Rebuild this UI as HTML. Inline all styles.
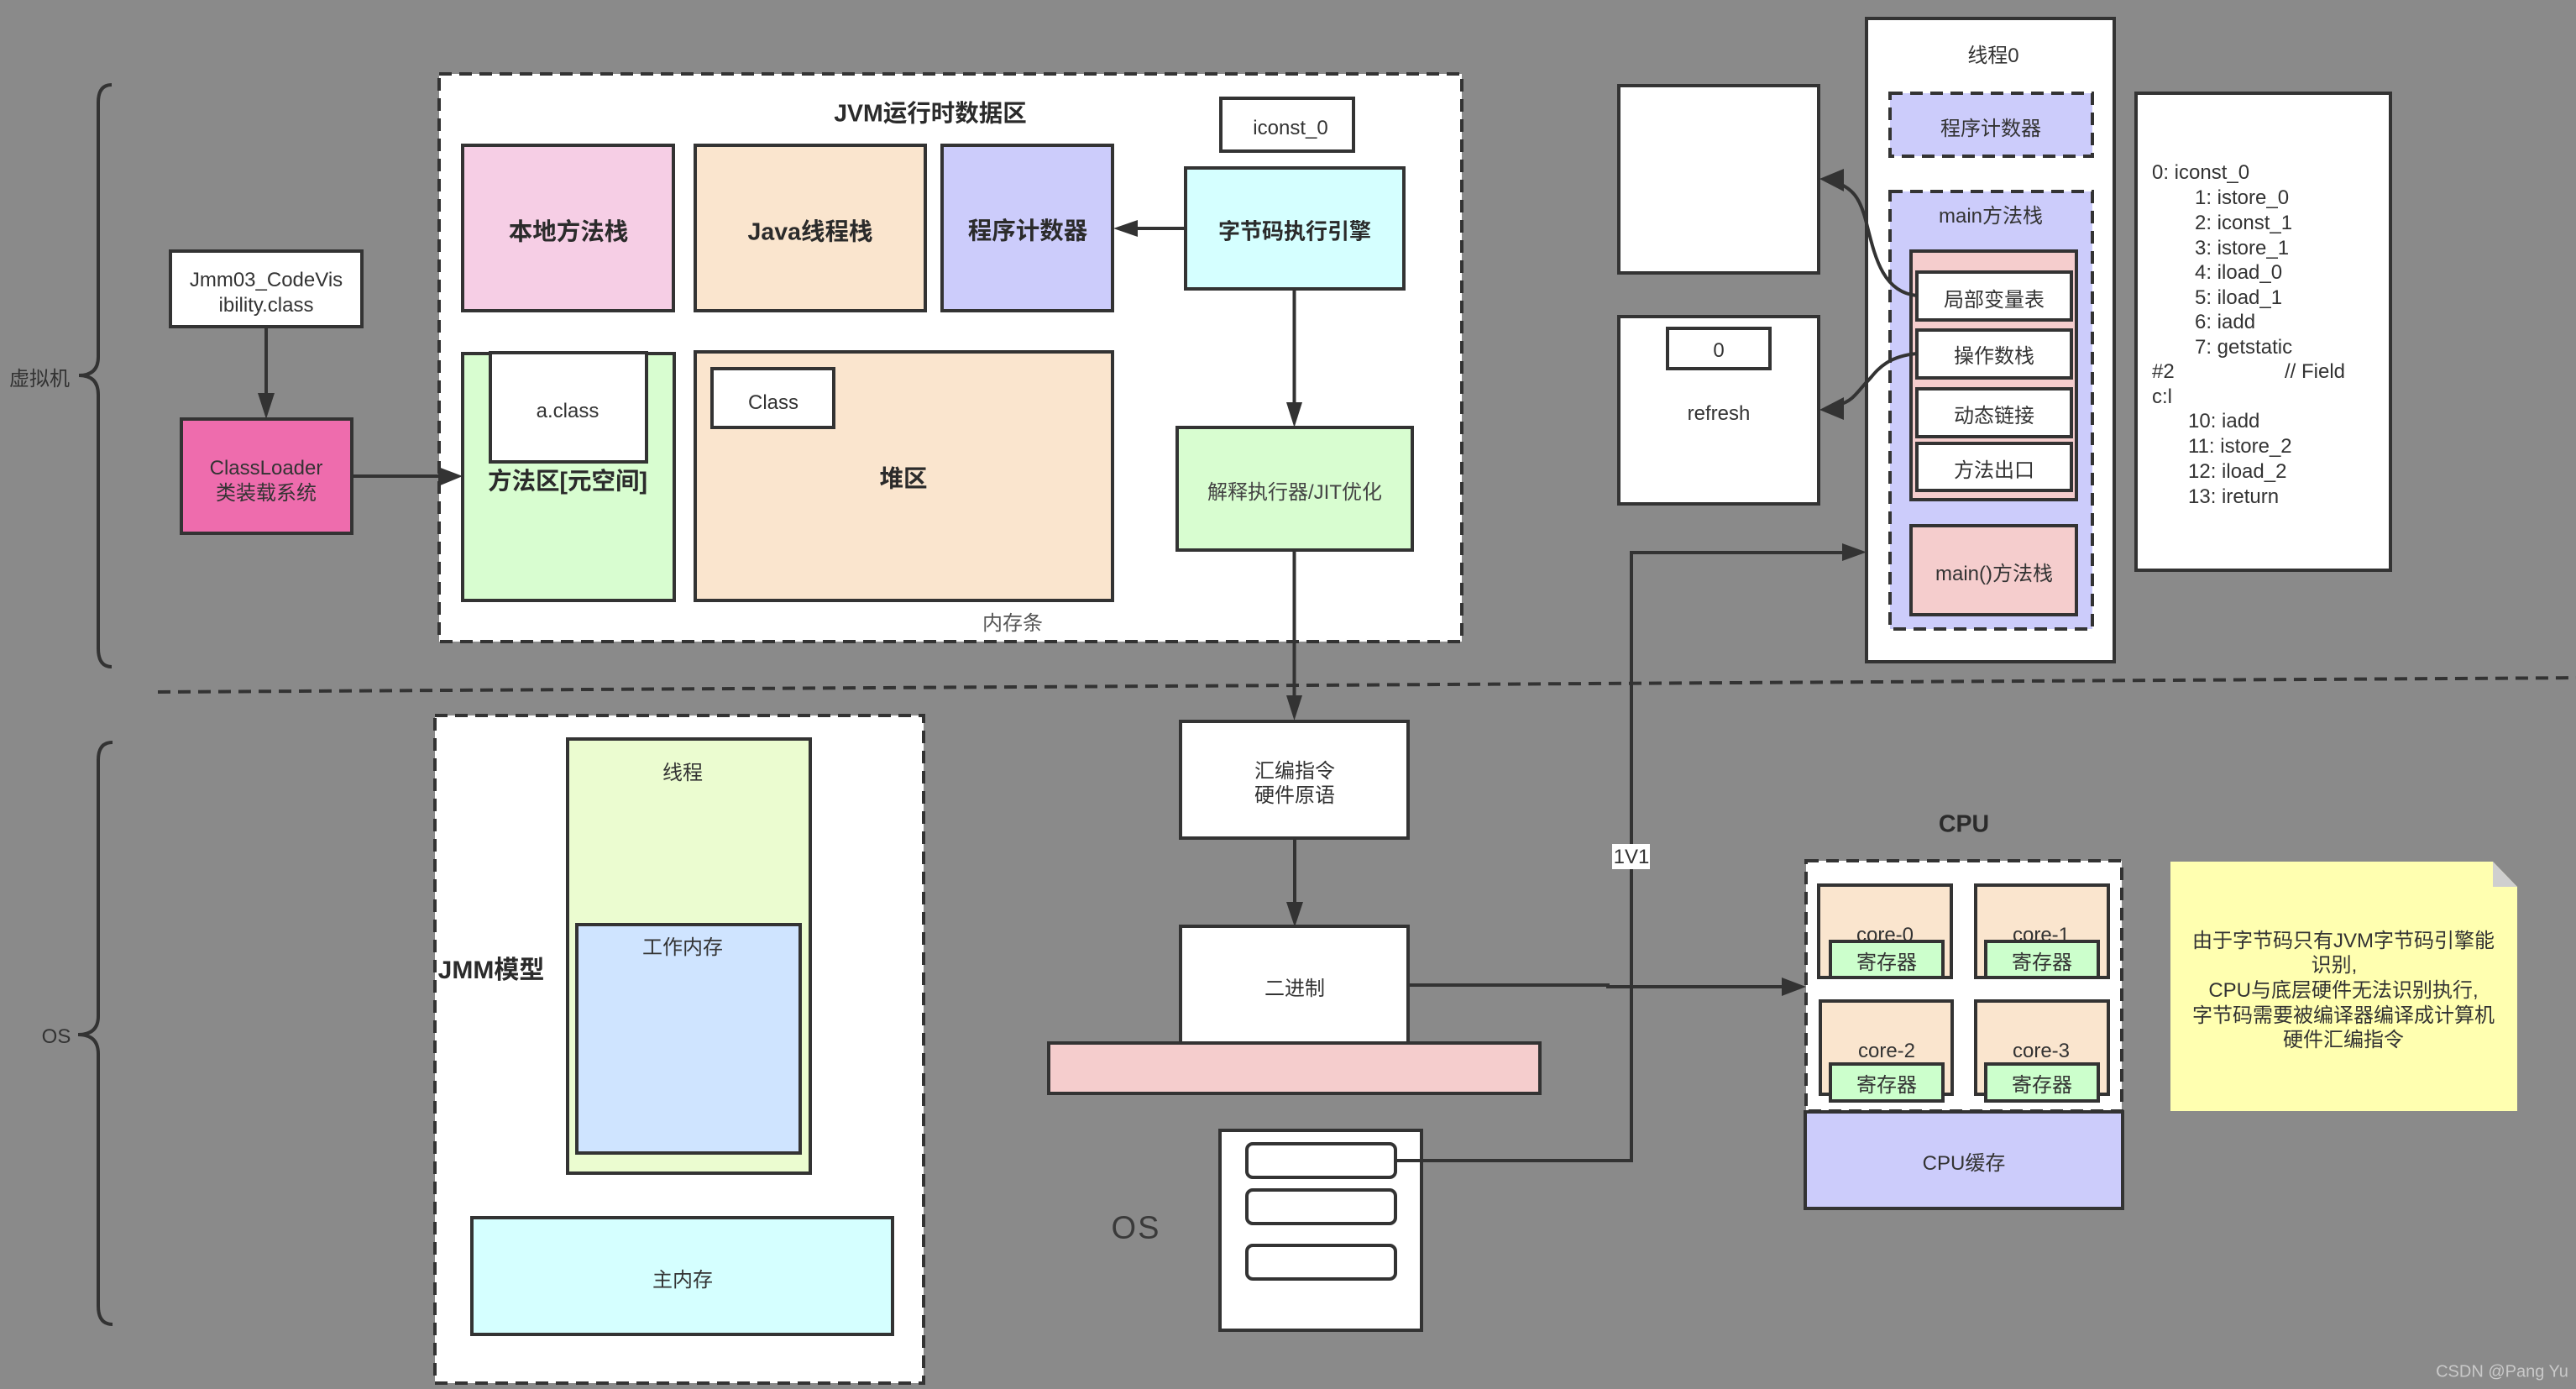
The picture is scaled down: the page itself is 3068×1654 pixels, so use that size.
<!DOCTYPE html>
<html><head><meta charset="utf-8"><style>
html,body{margin:0;padding:0;background:#8a8a8a;width:3068px;height:1654px;overflow:hidden}
svg{display:block}
text{font-family:"Liberation Sans","Noto Sans CJK SC",sans-serif;font-size:24px;fill:#333;text-anchor:middle;dominant-baseline:central;transform:translateY(1.5px)}
.b{font-weight:bold;font-size:28.500px;fill:#2b2b2b}
.l{text-anchor:start}
rect,path.s{stroke:#333;stroke-width:4}
.d{stroke-dasharray:15 9}
path.c{fill:none;stroke:#333;stroke-width:4}
path.h{fill:#333;stroke:none}
</style></head><body>
<svg width="3068" height="1654" viewBox="0 0 3068 1654" xmlns="http://www.w3.org/2000/svg">
<rect x="0" y="0" width="3068" height="1654" fill="#8a8a8a" style="stroke:none"/>

<!-- braces -->
<path class="c" d="M133 101Q117 101 117 122V425Q117 447 94 447Q117 447 117 470V772Q117 794 133 794"/>
<path class="c" d="M134 884Q117 884 117 905V1210Q117 1232 93 1232Q117 1232 117 1255V1555Q117 1577 134 1577"/>
<text x="47" y="450">虚拟机</text>
<text x="67" y="1233">OS</text>

<!-- dashed divider -->
<path class="c d" d="M188 824L3090 807"/>

<!-- class file and loader -->
<rect x="203" y="299" width="228" height="90" fill="#fff"/>
<text x="317" y="332">Jmm03_CodeVis</text>
<text x="317" y="362">ibility.class</text>
<path class="c" d="M317 389V470"/><path class="h" d="M307 468H327L317 499Z"/>
<rect x="216" y="499" width="203" height="136" fill="#ee6cad"/>
<text x="317" y="556">ClassLoader</text>
<text x="317" y="586">类装载系统</text>

<!-- JVM -->
<rect class="d" x="523" y="88" width="1218" height="676" fill="#fff"/>
<text class="b" x="1108" y="134">JVM运行时数据区</text>
<rect x="551" y="173" width="251" height="197" fill="#f6cee5"/>
<text class="b" x="677" y="275">本地方法栈</text>
<rect x="828" y="173" width="274" height="197" fill="#fae5ce"/>
<text class="b" x="965" y="275">Java线程栈</text>
<rect x="1122" y="173" width="203" height="197" fill="#ccccfb"/>
<text class="b" x="1224" y="274">程序计数器</text>
<rect x="551" y="421" width="252" height="294" fill="#d8fdd0"/>
<rect x="584" y="420" width="186" height="130" fill="#fff"/>
<text x="676" y="488">a.class</text>
<text class="b" x="676" y="572">方法区[元空间]</text>
<rect x="828" y="419" width="497" height="296" fill="#fae5ce"/>
<rect x="848" y="439" width="145" height="70" fill="#fff"/>
<text x="921" y="478">Class</text>
<text class="b" x="1076" y="569">堆区</text>
<text x="1206" y="741" style="fill:#555">内存条</text>
<rect x="1454" y="117" width="158" height="63" fill="#fff"/>
<text x="1537" y="151">iconst_0</text>
<rect x="1412" y="200" width="260" height="144" fill="#d5ffff"/>
<text class="b" x="1542" y="274" style="font-size:26px">字节码执行引擎</text>
<rect x="1402" y="509" width="280" height="146" fill="#d8fdd0"/>
<text x="1542" y="585" style="fill:#444">解释执行器/JIT优化</text>

<path class="c" d="M1412 272H1350"/><path class="h" d="M1355 262V282L1326 272Z"/>
<path class="c" d="M1541.500 344V480"/><path class="h" d="M1532 479H1551L1541.500 509Z"/>
<path class="c" d="M420 567H525"/><path class="h" d="M522 556V579L551 567Z"/>
<path class="c" d="M1541.500 655V830"/><path class="h" d="M1532 828H1551L1541.500 858Z"/>

<!-- JMM -->
<rect class="d" x="518" y="852" width="582" height="795" fill="#fff"/>
<text class="b" x="585" y="1154" style="font-size:30px">JMM模型</text>
<rect x="676" y="880" width="289" height="517" fill="#ebfcd0"/>
<text x="813" y="919">线程</text>
<rect x="687" y="1101" width="266" height="272" fill="#cfe4ff"/>
<text x="813" y="1127">工作内存</text>
<rect x="562" y="1450" width="501" height="139" fill="#d5ffff"/>
<text x="813" y="1523">主内存</text>

<!-- centre column -->
<rect x="1406" y="859" width="271" height="139" fill="#fff"/>
<text x="1542" y="917">汇编指令</text>
<text x="1542" y="946">硬件原语</text>
<path class="c" d="M1542 998V1076"/><path class="h" d="M1532 1074H1552L1542 1104Z"/>
<rect x="1406" y="1103" width="271" height="142" fill="#fff"/>
<text x="1542" y="1176">二进制</text>
<rect x="1249" y="1242" width="585" height="60" fill="#f5cdcd"/>
<rect x="1453" y="1346" width="240" height="238" fill="#fff"/>
<rect x="1485" y="1362" width="177" height="40" rx="7" fill="#fff"/>
<rect x="1485" y="1417" width="177" height="40" rx="7" fill="#fff"/>
<rect x="1485" y="1483" width="177" height="40" rx="7" fill="#fff"/>
<text x="1353" y="1461" style="font-size:38px;letter-spacing:2px;fill:#3a3a3a">OS</text>

<path class="c" d="M1662 1382H1943V658H2196"/><path class="h" d="M2194 647V668L2223 657.500Z"/>
<path class="c" d="M1678 1173H1915V1175H2125"/><path class="h" d="M2122 1164V1186L2151 1175Z"/>
<rect x="1920" y="1005" width="45" height="30" fill="#fff" style="stroke:none"/>
<text x="1943" y="1019">1V1</text>

<!-- left frames -->
<rect x="1928" y="102" width="238" height="223" fill="#fff"/>
<rect x="1928" y="377" width="238" height="223" fill="#fff"/>
<rect x="1986" y="391" width="122" height="48" fill="#fff"/>
<text x="2047" y="416">0</text>
<text x="2047" y="491">refresh</text>

<!-- thread -->
<rect x="2223" y="22" width="295" height="766" fill="#fff"/>
<text x="2374" y="65">线程0</text>
<rect class="d" x="2251" y="111" width="241" height="75" fill="#ccccfb"/>
<text x="2371" y="152">程序计数器</text>
<rect class="d" x="2251" y="228" width="241" height="521" fill="#ccccfb"/>
<text x="2371" y="256">main方法栈</text>
<rect x="2276" y="299" width="197" height="296" fill="#f5cdcd"/>
<rect x="2283" y="324" width="184" height="57" fill="#fff"/>
<text x="2375" y="356">局部变量表</text>
<rect x="2283" y="393" width="184" height="57" fill="#fff"/>
<text x="2375" y="423">操作数栈</text>
<rect x="2283" y="463" width="184" height="57" fill="#fff"/>
<text x="2375" y="494">动态链接</text>
<rect x="2283" y="528" width="184" height="56" fill="#fff"/>
<text x="2375" y="559">方法出口</text>
<rect x="2276" y="626" width="197" height="106" fill="#f5cdcd"/>
<text x="2375" y="682">main()方法栈</text>

<path class="c" d="M2283 352C2240 348 2232 300 2222 262C2214 232 2205 226 2190 218"/>
<path class="h" d="M2196 201V228L2167 213Z"/>
<path class="c" d="M2283 421C2240 425 2232 448 2222 456C2210 470 2205 478 2190 482"/>
<path class="h" d="M2196 473V500L2167 488Z"/>

<!-- code -->
<rect x="2544" y="111" width="303" height="568" fill="#fff"/>
<g>
<text class="l" x="2563" y="204">0: iconst_0</text>
<text class="l" x="2614" y="234">1: istore_0</text>
<text class="l" x="2614" y="264">2: iconst_1</text>
<text class="l" x="2614" y="294">3: istore_1</text>
<text class="l" x="2614" y="323">4: iload_0</text>
<text class="l" x="2614" y="353">5: iload_1</text>
<text class="l" x="2614" y="382">6: iadd</text>
<text class="l" x="2614" y="412">7: getstatic</text>
<text class="l" x="2563" y="441">#2</text>
<text class="l" x="2721" y="441">// Field</text>
<text class="l" x="2563" y="471">c:l</text>
<text class="l" x="2606" y="500">10: iadd</text>
<text class="l" x="2606" y="530">11: istore_2</text>
<text class="l" x="2606" y="560">12: iload_2</text>
<text class="l" x="2606" y="590">13: ireturn</text>
</g>

<!-- CPU -->
<text class="b" x="2339" y="980">CPU</text>
<rect class="d" x="2151" y="1025" width="376" height="298" fill="#fff"/>
<rect x="2166" y="1054" width="158" height="110" fill="#fae5ce"/>
<rect x="2353" y="1054" width="158" height="110" fill="#fae5ce"/>
<rect x="2168" y="1192" width="157" height="111" fill="#fae5ce"/>
<rect x="2353" y="1192" width="158" height="111" fill="#fae5ce"/>
<text x="2245" y="1112">core-0</text>
<text x="2431" y="1112">core-1</text>
<text x="2247" y="1250">core-2</text>
<text x="2431" y="1250">core-3</text>
<rect x="2180" y="1121" width="134" height="43" fill="#ccffcc"/>
<rect x="2365" y="1121" width="134" height="43" fill="#ccffcc"/>
<rect x="2180" y="1267" width="134" height="44" fill="#ccffcc"/>
<rect x="2365" y="1267" width="134" height="44" fill="#ccffcc"/>
<text x="2247" y="1145">寄存器</text>
<text x="2432" y="1145">寄存器</text>
<text x="2247" y="1291">寄存器</text>
<text x="2432" y="1291">寄存器</text>
<rect x="2150" y="1324" width="378" height="115" fill="#ccccfb"/>
<text x="2339" y="1384">CPU缓存</text>

<!-- note -->
<path d="M2585 1026H2969L2998 1056V1323H2585Z" fill="#ffffb0"/>
<path d="M2969 1026L2998 1056H2969Z" fill="#cfcfcf"/>
<text x="2791" y="1119">由于字节码只有JVM字节码引擎能</text>
<text x="2780" y="1148">识别,</text>
<text x="2791" y="1178">CPU与底层硬件无法识别执行,</text>
<text x="2791" y="1208">字节码需要被编译器编译成计算机</text>
<text x="2791" y="1237">硬件汇编指令</text>

<text x="2980" y="1632" style="font-size:20px;fill:#c9c9c9">CSDN @Pang Yu</text>
</svg>
</body></html>
